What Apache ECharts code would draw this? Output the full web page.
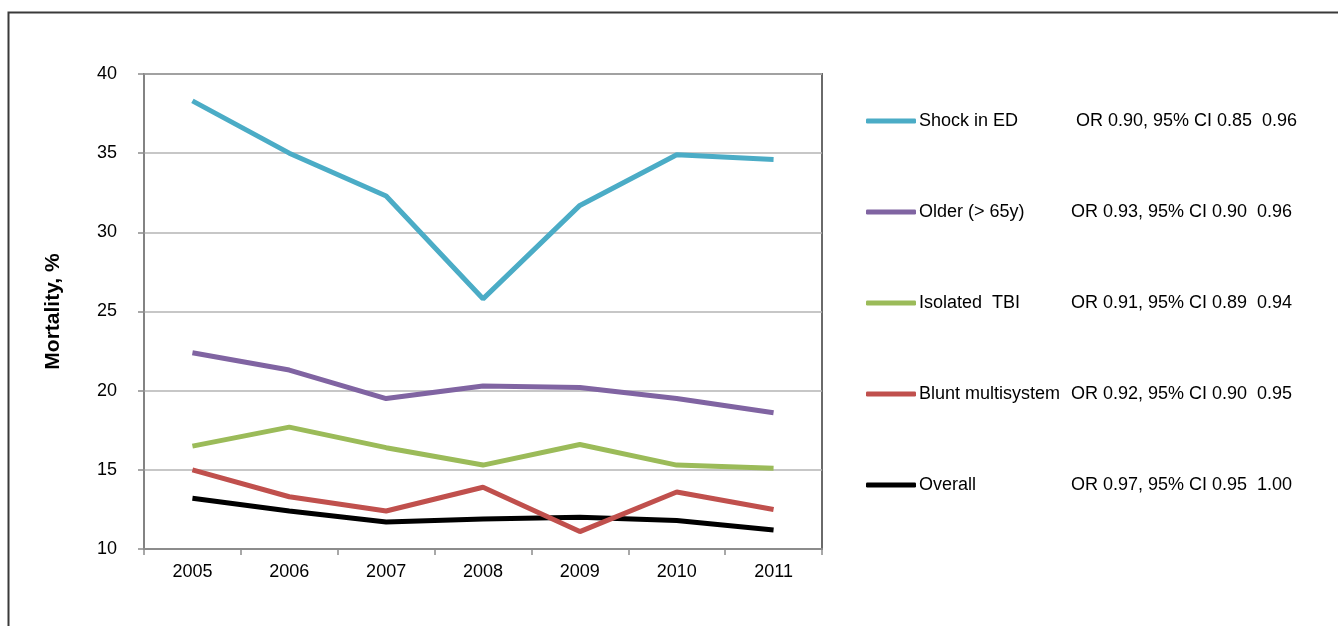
<!DOCTYPE html>
<html>
<head>
<meta charset="utf-8">
<script src="https://cdn.jsdelivr.net/npm/echarts@6/dist/echarts.min.js"></script>
<style>
    html, body { margin: 0; padding: 0; background: #fff; }
    #main { width: 1338px; height: 626px; }
</style>
</head>
<body>
<div id="main"></div>
<script>
    // 数据
    var years = ['2005', '2006', '2007', '2008', '2009', '2010', '2011']
    var shockData = [38.3, 35.0, 32.3, 25.8, 31.7, 34.9, 34.6]
    var olderData = [22.4, 21.3, 19.5, 20.3, 20.2, 19.5, 18.6]
    var tbiData = [16.5, 17.7, 16.4, 15.3, 16.6, 15.3, 15.1]
    var bluntData = [15.0, 13.3, 12.4, 13.9, 11.1, 13.6, 12.5]
    var overallData = [13.2, 12.4, 11.7, 11.9, 12.0, 11.8, 11.2]
    var seriesNames = ['Shock in ED', 'Older (> 65y)', 'Isolated  TBI', 'Blunt multisystem', 'Overall']
    var orLabels = [
        ' OR 0.90, 95% CI 0.85  0.96',
        'OR 0.93, 95% CI 0.90  0.96',
        'OR 0.91, 95% CI 0.89  0.94',
        'OR 0.92, 95% CI 0.90  0.95',
        'OR 0.97, 95% CI 0.95  1.00'
    ]
    var yTicks = [10, 15, 20, 25, 30, 35, 40]

    var colorList = ['#4BACC6', '#8064A2', '#9BBB59', '#C0504D', '#000000']
    var allData = [shockData, olderData, tbiData, bluntData, overallData]
    var font = '"Liberation Sans", Arial, Helvetica, sans-serif'

    var series = seriesNames.map(function (name, i) {
        return {
            name: name,
            type: 'line',
            data: allData[i],
            symbol: 'none',
            lineStyle: { width: 5, color: colorList[i] },
            itemStyle: { color: colorList[i] },
            z: 10 - i
        }
    })

    var option = {
        animation: false,
        color: colorList,
        graphic: [{
            type: 'rect',
            shape: { x: 8.5, y: 12.5, width: 1400, height: 800 },
            style: { fill: 'none', stroke: '#3a3a3a', lineWidth: 2 },
            silent: true
        }],
        grid: {
            left: 144,
            top: 74,
            right: 516,
            bottom: 77,
            containLabel: false,
            show: true,
            borderColor: '#6a6a6a',
            borderWidth: 2
        },
        legend: {
            orient: 'vertical',
            left: 861,
            top: 107,
            itemWidth: 50,
            itemHeight: 5,
            itemGap: 73,
            icon: 'roundRect',
            data: seriesNames,
            formatter: function (name) {
                var i = seriesNames.indexOf(name)
                return '{n|' + name + '}{o|' + orLabels[i] + '}'
            },
            textStyle: {
                fontFamily: font,
                fontSize: 18,
                color: '#000',
                padding: [0, 0, 0, -2],
                rich: {
                    n: { width: 152, fontSize: 18, fontFamily: font, color: '#000', lineHeight: 22 },
                    o: { fontSize: 18, fontFamily: font, color: '#000', lineHeight: 22 }
                }
            }
        },
        xAxis: {
            type: 'category',
            data: years,
            boundaryGap: true,
            axisLine: { show: true, lineStyle: { color: '#8c8c8c', width: 2 } },
            axisTick: { show: true, inside: false, length: 6, interval: 0, lineStyle: { color: '#8c8c8c', width: 1.5 } },
            axisLabel: { margin: 14, fontFamily: font, fontSize: 18, color: '#000' }
        },
        yAxis: {
            type: 'value',
            min: yTicks[0],
            max: yTicks[yTicks.length - 1],
            interval: 5,
            name: 'Mortality, %',
            nameLocation: 'middle',
            nameGap: 80,
            nameRotate: 90,
            nameTextStyle: { fontFamily: font, fontSize: 21, fontWeight: 'bold', color: '#000' },
            axisLine: { show: true, lineStyle: { color: '#8c8c8c', width: 1.5 } },
            axisTick: { show: true, inside: false, length: 6, lineStyle: { color: '#8c8c8c', width: 1.5 } },
            axisLabel: { margin: 27, fontFamily: font, fontSize: 18, color: '#000' },
            splitLine: { show: true, lineStyle: { color: '#b4b4b4', width: 1.5 } }
        },
        series: series
    }

    var myChart = echarts.init(document.getElementById('main'))
    myChart.setOption(option)
</script>
</body>
</html>
